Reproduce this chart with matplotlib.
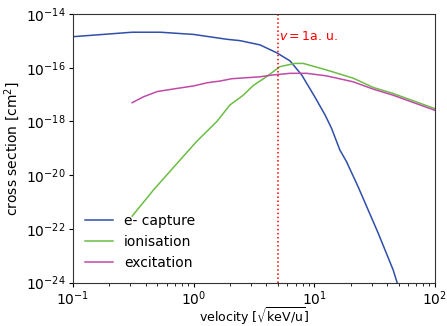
import numpy as np
import matplotlib
matplotlib.use('Agg')
import matplotlib.pyplot as plt
from matplotlib.ticker import NullLocator

# velocity in sqrt(keV/u), cross sections in cm^2
v_capture = [0.1, 0.31, 0.53, 1.0, 1.88, 2.43, 3.55, 4.89, 6.3, 7.87, 10.1, 12.3,
             13.9, 16.3, 18.5, 23.1, 33.9, 45.1, 48.6, 52.0]
capture = [1.43e-15, 2.1e-15, 2.1e-15, 1.74e-15, 1.15e-15, 1.02e-15, 7.1e-16, 3.6e-16,
           1.8e-16, 5.4e-17, 8.3e-18, 1.74e-18, 5.6e-19, 8.7e-20, 3.2e-20, 3.7e-21,
           6.9e-23, 2.95e-24, 1.0e-24, 4e-25]

v_ionis = [0.31, 0.465, 0.73, 1.06, 1.56, 2.0, 2.58, 3.13, 4.04, 5.2, 6.92, 8.1,
           12.6, 21.0, 30.8, 45.0, 100.0]
ionis = [3.0e-22, 2.8e-21, 2.75e-20, 1.8e-19, 1.0e-18, 4.1e-18, 9.5e-18, 2.2e-17,
         4.7e-17, 1.1e-16, 1.45e-16, 1.45e-16, 8.3e-17, 4.1e-17, 1.85e-17, 1.1e-17,
         3.0e-18]

v_excit = [0.31, 0.385, 0.50, 0.73, 1.0, 1.29, 1.66, 2.07, 3.55, 4.57, 6.3, 8.65,
           12.6, 21.0, 30.8, 45.0, 100.0]
excit = [5.0e-18, 8.3e-18, 1.3e-17, 1.7e-17, 2.1e-17, 2.75e-17, 3.2e-17, 3.9e-17,
         4.6e-17, 5.4e-17, 6.2e-17, 6.2e-17, 5.0e-17, 3.0e-17, 1.6e-17, 9.5e-18,
         2.6e-18]

v_au = 5.0

fig, ax = plt.subplots(figsize=(4.47, 3.26), dpi=100)
ax.plot(v_capture, capture, color='#2f4fa8', lw=1.1, label='e- capture')
ax.plot(v_ionis, ionis, color='#6cbd45', lw=1.1, label='ionisation')
ax.plot(v_excit, excit, color='#c04aa8', lw=1.1, label='excitation')
ax.axvline(v_au, color='red', ls=':', lw=1.1)
ax.text(v_au * 1.02, 1.4e-15, r'$v=1\mathrm{a.\,u.}$', color='red', fontsize=9, va='center')

ax.set_xscale('log')
ax.set_yscale('log')
ax.set_xlim(0.1, 100)
ax.set_ylim(1e-24, 1e-14)
ax.set_yticks([1e-24, 1e-22, 1e-20, 1e-18, 1e-16, 1e-14])
ax.yaxis.set_minor_locator(NullLocator())
ax.tick_params(which='major', length=3.2, pad=2)
ax.tick_params(which='minor', length=2)
for s in ax.spines.values():
    s.set_color('#333333')
ax.set_xlabel(r'velocity [$\sqrt{\mathrm{keV/u}}$]', fontsize=9)
ax.set_ylabel(r'cross section [cm$^2$]')
ax.yaxis.set_label_coords(-0.14, 0.5)
ax.xaxis.set_label_coords(0.5, -0.083)
ax.legend(loc='lower left', frameon=False)

fig.subplots_adjust(left=0.163, right=0.973, top=0.957, bottom=0.133)
fig.savefig('out.png', dpi=100)
